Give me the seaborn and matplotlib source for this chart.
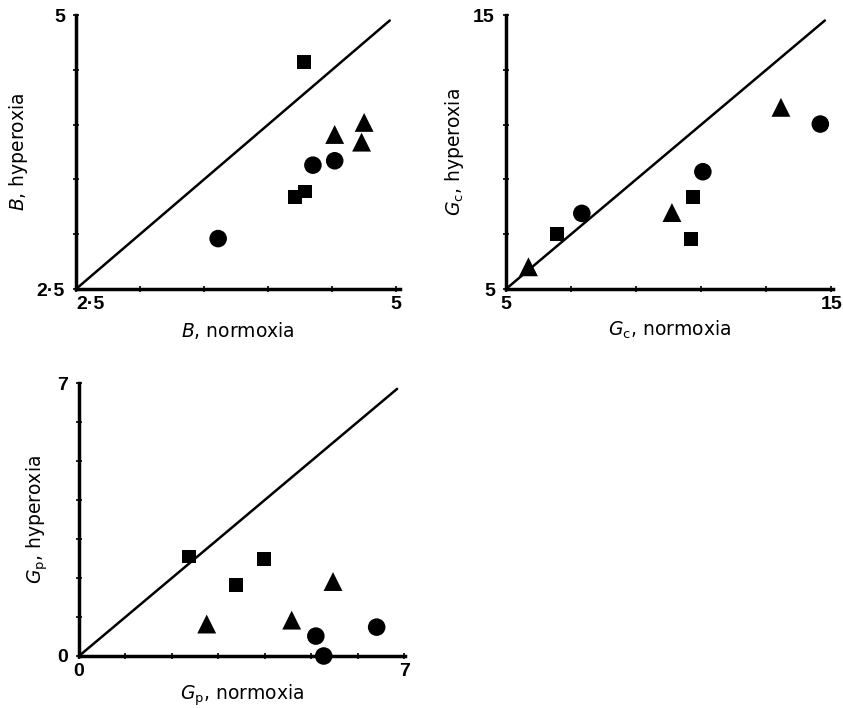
import matplotlib
matplotlib.use("Agg")
import matplotlib.pyplot as plt
import seaborn as sns
import pandas as pd

sns.set_style("ticks")
plt.rcParams["font.family"] = ["DejaVu Sans"]
plt.rcParams["mathtext.fontset"] = "dejavusans"
plt.rcParams["text.color"] = "black"
plt.rcParams["axes.labelcolor"] = "black"
plt.rcParams["xtick.color"] = "black"
plt.rcParams["ytick.color"] = "black"
plt.rcParams["axes.edgecolor"] = "black"

# Panel B: B, normoxia vs hyperoxia
b_norm = [4.28, 4.21, 4.29, 3.61, 4.35, 4.52, 4.52, 4.73, 4.75]
b_hyper = [4.57, 3.34, 3.39, 2.96, 3.63, 3.67, 3.91, 3.84, 4.02]
b_group = ["square", "square", "square", "circle", "circle", "circle",
           "triangle", "triangle", "triangle"]

# Panel Gc
gc_norm = [6.58, 10.68, 10.76, 7.33, 11.05, 14.66, 5.69, 10.10, 13.45]
gc_hyper = [7.00, 6.81, 8.35, 7.76, 9.28, 11.02, 5.81, 7.79, 11.63]
gc_group = ["square", "square", "square", "circle", "circle", "circle",
            "triangle", "triangle", "triangle"]

# Panel Gp
gp_norm = [2.36, 3.38, 3.98, 5.10, 5.27, 6.41, 2.75, 4.58, 5.47]
gp_hyper = [2.55, 1.82, 2.48, 0.51, 0.00, 0.74, 0.82, 0.92, 1.91]
gp_group = ["square", "square", "square", "circle", "circle", "circle",
            "triangle", "triangle", "triangle"]

# Axis ticks and labels
b_ticks = [2.5, 3.0, 3.5, 4.0, 4.5, 5.0]
b_ticklabels = ["2·5", "", "", "", "", "5"]
gc_ticks = [5, 7, 9, 11, 13, 15]
gc_ticklabels = ["5", "", "", "", "", "15"]
gp_ticks = [0, 1, 2, 3, 4, 5, 6, 7]
gp_ticklabels = ["0", "", "", "", "", "", "", "7"]

# Identity line extents
b_line = [2.5, 4.95]
gc_line = [5.0, 14.8]
gp_line = [0.0, 6.85]

markers = {"square": "s", "circle": "o", "triangle": "^"}
sizes = {"square": 100, "circle": 160, "triangle": 185}

fig = plt.figure(figsize=(8.43, 7.08), dpi=100)
W, H = 843, 708


def add_axes(left, right, top, bottom):
    return fig.add_axes([left / W, 1 - bottom / H, (right - left) / W, (bottom - top) / H])


panels = [
    dict(ax=add_axes(76, 400, 15, 289), x=b_norm, y=b_hyper, g=b_group,
         ticks=b_ticks, labels=b_ticklabels, line=b_line, xmax=5.03,
         xlabel=r"$\it{B}$, normoxia", ylabel=r"$\it{B}$, hyperoxia", xpad=5),
    dict(ax=add_axes(506, 833, 15, 289), x=gc_norm, y=gc_hyper, g=gc_group,
         ticks=gc_ticks, labels=gc_ticklabels, line=gc_line, xmax=15.05,
         xlabel=r"$\it{G}_{\rm c}$, normoxia", ylabel=r"$\it{G}_{\rm c}$, hyperoxia", xpad=4),
    dict(ax=add_axes(79, 405, 383, 656), x=gp_norm, y=gp_hyper, g=gp_group,
         ticks=gp_ticks, labels=gp_ticklabels, line=gp_line, xmax=7.02,
         xlabel=r"$\it{G}_{\rm p}$, normoxia", ylabel=r"$\it{G}_{\rm p}$, hyperoxia", xpad=2),
]

for i, p in enumerate(panels):
    ax = p["ax"]
    df = pd.DataFrame({"x": p["x"], "y": p["y"], "g": p["g"]})
    sns.lineplot(x=p["line"], y=p["line"], ax=ax, color="black", lw=1.8)
    sns.scatterplot(data=df, x="x", y="y", style="g", markers=markers,
                    size="g", sizes=sizes, color="black", edgecolor="none",
                    legend=False, ax=ax, clip_on=False, zorder=5)
    ax.set_xlim(p["ticks"][0], p["xmax"])
    ax.set_ylim(p["ticks"][0], p["ticks"][-1])
    ax.set_xticks(p["ticks"])
    ax.set_yticks(p["ticks"])
    ax.set_xticklabels(p["labels"], fontsize=14, fontweight="bold",
                       family="Liberation Sans")
    ax.set_yticklabels(p["labels"], fontsize=14, fontweight="bold",
                       family="Liberation Sans")
    if i == 0:
        ax.get_xticklabels()[0].set_horizontalalignment("left")
    ax.tick_params(direction="inout", length=4, width=1.2, pad=3)
    ax.tick_params(axis="y", pad=6)
    for side in ["top", "right"]:
        ax.spines[side].set_visible(False)
    for side in ["left", "bottom"]:
        ax.spines[side].set_linewidth(2.5)
    ax.set_xlabel(p["xlabel"], fontsize=13.5, labelpad=p["xpad"])
    ax.set_ylabel(p["ylabel"], fontsize=13.5, labelpad=5)
    ax.set_facecolor("white")

fig.savefig("out.png", dpi=100, facecolor="white")
